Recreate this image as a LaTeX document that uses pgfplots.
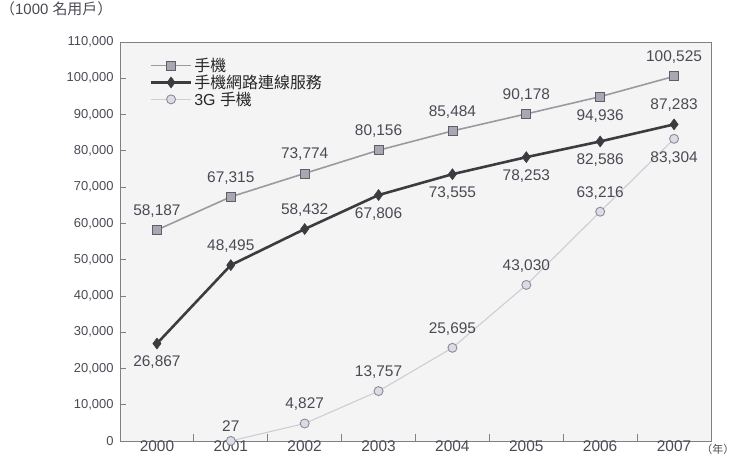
\documentclass[border=0pt]{standalone}
\usepackage{pgfplots}
\pgfplotsset{compat=1.18}
\usepackage{pgfplotstable}
\usepackage{fontspec}
\setmainfont{Liberation Sans}
\newfontfamily\cjk{Noto Sans CJK TC}
\definecolor{txt}{HTML}{4A4A55}
\definecolor{hsline}{HTML}{9A9AA0}
\definecolor{hsfill}{HTML}{A8A8B2}
\definecolor{hsdraw}{HTML}{5E5E68}
\definecolor{miline}{HTML}{3C3C40}
\definecolor{gline}{HTML}{CDCDD6}
\definecolor{gfill}{HTML}{DCDCE6}
\definecolor{gdraw}{HTML}{8A8A98}
\definecolor{bg}{HTML}{F4F4F4}

\pgfplotstableread{
x y lbl pos
2000 58187 58,187 1
2001 67315 67,315 1
2002 73774 73,774 1
2003 80156 80,156 1
2004 85484 85,484 1
2005 90178 90,178 1
2006 94936 94,936 -1
2007 100525 100,525 1
}\handset
\pgfplotstableread{
x y lbl pos
2000 26867 26,867 -1
2001 48495 48,495 1
2002 58432 58,432 1
2003 67806 67,806 -1
2004 73555 73,555 -1
2005 78253 78,253 -1
2006 82586 82,586 -1
2007 87283 87,283 1
}\mobilenet
\pgfplotstableread{
x y lbl pos
2001 27 27 0.8
2002 4827 4,827 1
2003 13757 13,757 1
2004 25695 25,695 1
2005 43030 43,030 1
2006 63216 63,216 1
2007 83304 83,304 -1
}\threeg

\begin{document}
\begin{tikzpicture}
\begin{axis}[
  scale only axis,
  width=591bp, height=399bp,
  xmin=1999.5, xmax=2007.5,
  ymin=0, ymax=110000,
  scaled y ticks=false,
  axis background/.style={fill=bg},
  axis line style={draw=black!50, line width=0.8pt},
  xtick={2000,...,2007},
  xticklabels={2000,2001,2002,2003,2004,2005,2006,2007},
  major x tick style={draw=none},
  minor xtick={2000.5,2001.5,2002.5,2003.5,2004.5,2005.5,2006.5},
  minor x tick style={draw=black!50, line width=0.8pt},
  minor tick length=7bp,
  ytick={0,10000,...,110000},
  yticklabels={0,{10,000},{20,000},{30,000},{40,000},{50,000},{60,000},{70,000},{80,000},{90,000},{100,000},{110,000}},
  y tick style={draw=black!50, line width=0.8pt},
  major tick length=6bp,
  tick align=inside,
  xtick pos=bottom, ytick pos=left,
  yticklabel style={font=\fontsize{13}{15}\selectfont, text=txt, xshift=-3bp},
  xticklabel style={font=\fontsize{15.5}{17}\selectfont, text=txt, anchor=north, yshift=4bp},
  legend style={draw=none, fill=none, at={(rel axis cs:0.045,0.97)}, anchor=north west,
    font=\fontsize{16}{18}\selectfont, text=black!85, row sep=-2bp,
    /tikz/every even column/.append style={column sep=4bp}},
  legend cell align=left,
  legend image code/.code={\draw[mark repeat=2,mark phase=2] plot coordinates {(0bp,0bp) (20bp,0bp) (40bp,0bp)};},
  clip=false,
  point meta=explicit symbolic,
  nodes near coords,
  visualization depends on={\thisrow{pos} \as \pos},
  every node near coord/.append style={anchor=center, yshift=\pos*19bp, font=\fontsize{15.5}{17}\selectfont, text=txt},
]
\addplot[hsline, line width=1.6pt, mark=square*, mark size=4.5bp,
  mark options={fill=hsfill, draw=hsdraw, line width=0.8pt}]
  table[x=x, y=y, meta=lbl] {\handset};
\addlegendentry{\cjk 手機}
\addplot[miline, line width=2.6pt, mark=diamond*, mark size=5.5bp,
  mark options={fill=miline, draw=miline, line width=0.5pt}]
  table[x=x, y=y, meta=lbl] {\mobilenet};
\addlegendentry{\cjk 手機網路連線服務}
\addplot[gline, line width=1.1pt, mark=*, mark size=4.5bp,
  mark options={fill=gfill, draw=gdraw, line width=0.9pt}]
  table[x=x, y=y, meta=lbl] {\threeg};
\addlegendentry{3G {\cjk 手機}}
\coordinate (sw) at (rel axis cs:0,0);
\coordinate (ne) at (rel axis cs:1,1);
\end{axis}
\node[anchor=west, font=\fontsize{15}{17}\selectfont, text=txt, inner sep=0pt] at ([xshift=-120bp,yshift=33bp]sw |- ne) {{\cjk （}1000 {\cjk 名用戶）}};
\node[anchor=east, font=\fontsize{11}{13}\selectfont, text=txt, inner sep=0pt] at ([xshift=23.5bp,yshift=-8bp]ne |- sw) {{\cjk （年）}};
\pgfresetboundingbox
\path[use as bounding box] ([xshift=-120bp,yshift=-18bp]sw) rectangle ([xshift=24bp,yshift=42bp]ne);
\end{tikzpicture}
\end{document}
